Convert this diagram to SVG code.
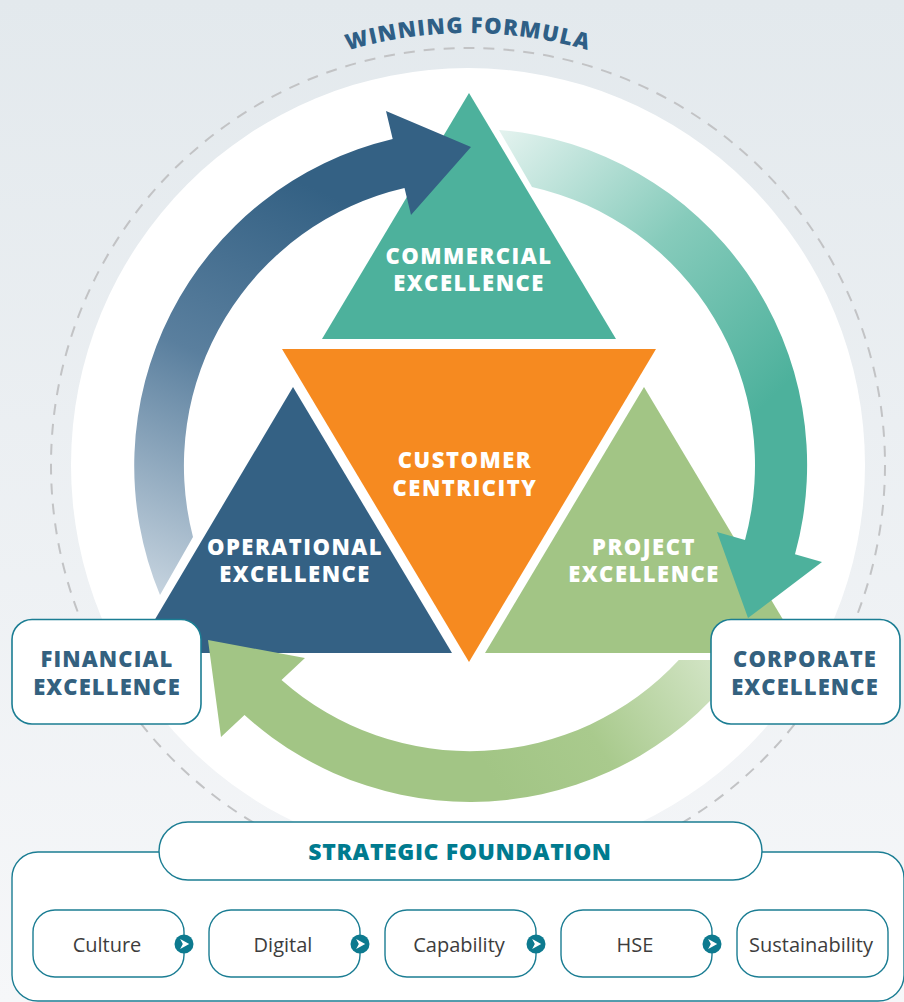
<svg xmlns="http://www.w3.org/2000/svg" width="904" height="1002" viewBox="0 0 904 1002">
  <defs>
    <linearGradient id="bg" x1="0" y1="0" x2="0" y2="1">
      <stop offset="0" stop-color="#e3e9ed"/>
      <stop offset="1" stop-color="#f6f7f9"/>
    </linearGradient>
    <linearGradient id="gBlue" gradientUnits="userSpaceOnUse" x1="160" y1="600" x2="340" y2="200">
      <stop offset="0" stop-color="#c8d5e0"/>
      <stop offset="0.55" stop-color="#5a7f9e"/>
      <stop offset="1" stop-color="#346184"/>
    </linearGradient>
    <linearGradient id="gTeal" gradientUnits="userSpaceOnUse" x1="505" y1="130" x2="770" y2="400">
      <stop offset="0" stop-color="#e2f2ee"/>
      <stop offset="0.5" stop-color="#86cbbb"/>
      <stop offset="1" stop-color="#4db19c"/>
    </linearGradient>
    <linearGradient id="gGreen" gradientUnits="userSpaceOnUse" x1="730" y1="650" x2="500" y2="790">
      <stop offset="0" stop-color="#d8e8cd"/>
      <stop offset="0.6" stop-color="#a9ca8d"/>
      <stop offset="1" stop-color="#a2c585"/>
    </linearGradient>
    <path id="arcTitle" d="M 36 465 A 432 432 0 0 1 900 465"/>
    <g id="chev">
      <circle r="9.5" fill="#0d7a8f"/>
      <path d="M -3.8 -5 L 5.2 0 L -3.8 5 L -1.2 0 Z" fill="#fff"/>
    </g>
  </defs>
  <style>
    .head { font-family: "Open Sans", "Liberation Sans", sans-serif; font-weight: 800; text-anchor: middle; }
    .tri { fill: #fff; font-size: 22px; letter-spacing: 1.5px; }
    .ext { fill: #34617f; font-size: 22px; letter-spacing: 1.1px; }
    .card { fill: #fff; stroke: #1b7d93; stroke-width: 1.6; }
    .pill { fill: #fff; stroke: #1b7d93; stroke-width: 1.4; }
    .item { font-family: "Open Sans", "Liberation Sans", sans-serif; font-size: 20px; fill: #3d3d3d; text-anchor: middle; }
  </style>

  <!-- backdrop -->
  <rect width="904" height="1002" fill="url(#bg)"/>
  <circle cx="468" cy="465" r="417" fill="none" stroke="#c2c3c5" stroke-width="2" stroke-dasharray="11 9"/>
  <circle cx="468" cy="465" r="397" fill="#fff"/>
  <text class="head" font-size="22" letter-spacing="1.2" fill="#2f5f86">
    <textPath href="#arcTitle" startOffset="50%">WINNING FORMULA</textPath>
  </text>

  <!-- triangles -->
  <g id="commercial">
    <polygon points="469,93 616,339 322,339" fill="#4db19c"/>
    <text class="head tri" x="469" y="264">COMMERCIAL</text>
    <text class="head tri" x="469" y="291">EXCELLENCE</text>
  </g>
  <g id="customer">
    <polygon points="282,349 656,349 469,662" fill="#f68a20"/>
    <text class="head tri" x="465" y="468">CUSTOMER</text>
    <text class="head tri" x="465" y="496">CENTRICITY</text>
  </g>
  <g id="operational">
    <polygon points="293,387 452,653 135,653" fill="#346184"/>
    <text class="head tri" x="295" y="555">OPERATIONAL</text>
    <text class="head tri" x="295" y="582">EXCELLENCE</text>
  </g>
  <g id="project">
    <polygon points="644,387 803,653 485,653" fill="#a2c585"/>
    <text class="head tri" x="644" y="555">PROJECT</text>
    <text class="head tri" x="644" y="582">EXCELLENCE</text>
  </g>

  <!-- cycle arrows -->
  <g id="connectors">
    <path d="M 160 595 A 336 336 0 0 1 392.7 139 L 386 111 L 471 147 L 411 215 L 404.5 188 A 285 285 0 0 0 193 537 Z" fill="url(#gBlue)"/>
    <path d="M 499 130 A 336 336 0 0 1 795 554.3 L 822 562 L 748 618 L 717 532 L 745 540 A 285 285 0 0 0 532 187 Z" fill="url(#gTeal)"/>
    <path d="M 744.3 660 A 336 336 0 0 1 244.5 715 L 221 737 L 208 640 L 305 658 L 281.5 680 A 285 285 0 0 0 678.8 660 Z" fill="url(#gGreen)"/>
  </g>

  <!-- side cards -->
  <g id="financial">
    <rect class="card" x="12" y="619.5" width="189" height="104.5" rx="20"/>
    <text class="head ext" x="107" y="667">FINANCIAL</text>
    <text class="head ext" x="107" y="695">EXCELLENCE</text>
  </g>
  <g id="corporate">
    <rect class="card" x="711" y="619.5" width="189" height="104.5" rx="20"/>
    <text class="head ext" x="805" y="667">CORPORATE</text>
    <text class="head ext" x="805" y="695">EXCELLENCE</text>
  </g>

  <!-- strategic foundation -->
  <g id="foundation">
    <rect class="pill" x="12" y="852" width="892" height="149" rx="26"/>
    <rect class="pill" x="159" y="822" width="603" height="58" rx="29"/>
    <text class="head" x="460" y="860" font-size="23" letter-spacing="0.6" fill="#007b8f">STRATEGIC FOUNDATION</text>
  </g>
  <g id="culture">
    <rect class="pill" x="33" y="910" width="151" height="67" rx="22"/>
    <text class="item" x="107" y="952">Culture</text>
  </g>
  <g id="digital">
    <rect class="pill" x="209" y="910" width="151" height="67" rx="22"/>
    <text class="item" x="283" y="952">Digital</text>
  </g>
  <g id="capability">
    <rect class="pill" x="385" y="910" width="151" height="67" rx="22"/>
    <text class="item" x="459" y="952">Capability</text>
  </g>
  <g id="hse">
    <rect class="pill" x="561" y="910" width="151" height="67" rx="22"/>
    <text class="item" x="635" y="952">HSE</text>
  </g>
  <g id="sustainability">
    <rect class="pill" x="737" y="910" width="151" height="67" rx="22"/>
    <text class="item" x="811" y="952">Sustainability</text>
  </g>
  <g id="steps">
    <use href="#chev" x="184" y="944"/>
    <use href="#chev" x="360" y="944"/>
    <use href="#chev" x="536" y="944"/>
    <use href="#chev" x="712" y="944"/>
  </g>
</svg>
